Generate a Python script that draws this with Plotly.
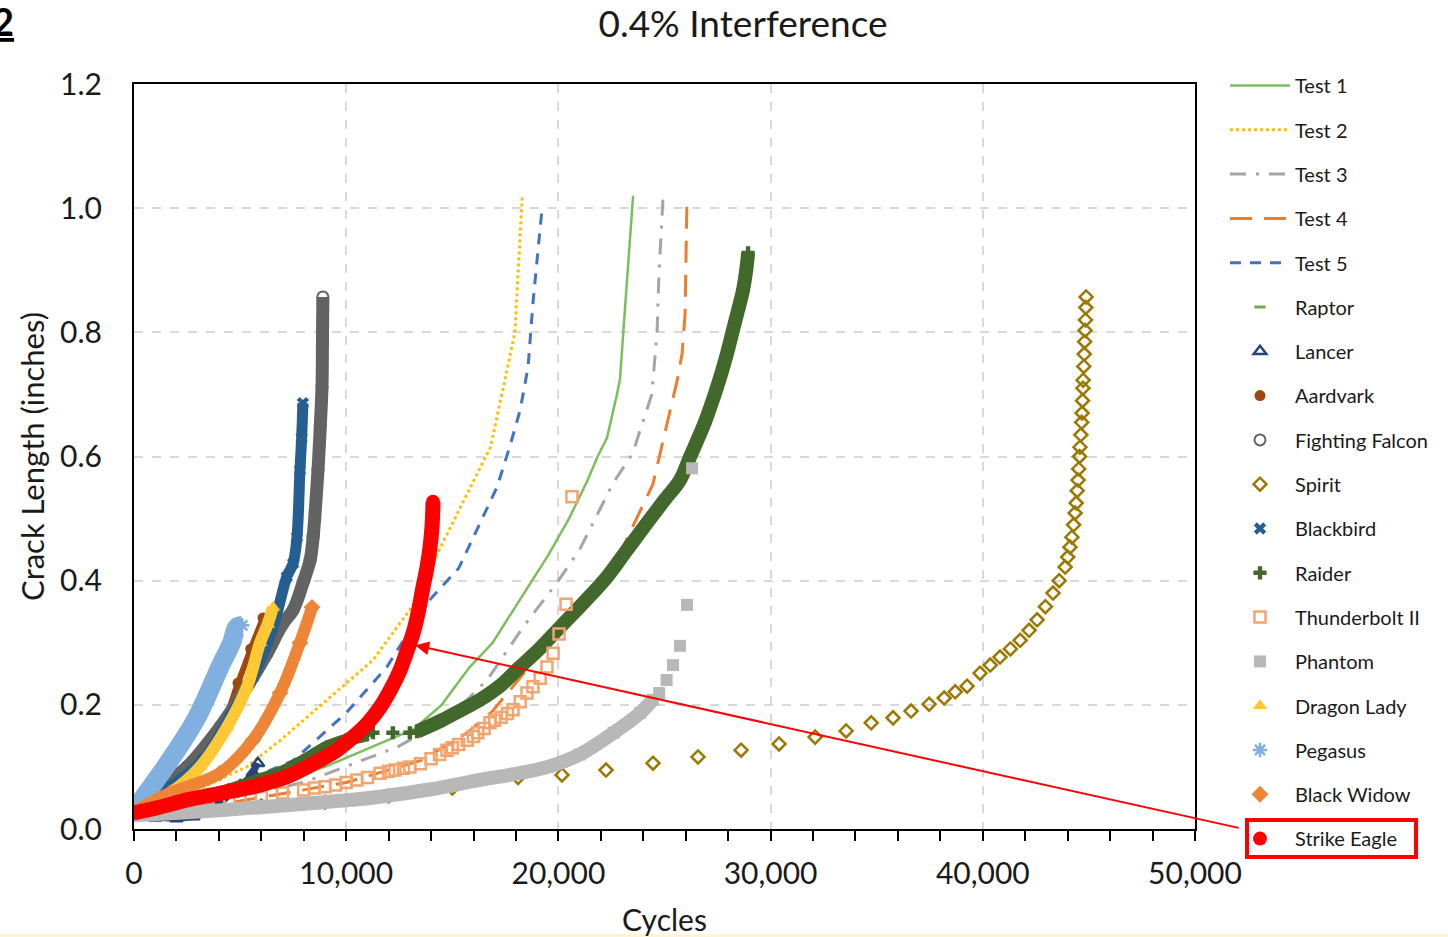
import plotly.graph_objects as go

# ---------------- data ----------------
test1_x = [0, 3000, 6000, 9000, 11600, 13150, 14500, 15800, 16900, 18000, 19500, 20500, 21350, 21850, 22290, 22760, 22905, 23100, 23300, 23520]
test1_y = [0.025, 0.045, 0.07, 0.10, 0.138, 0.16, 0.20, 0.26, 0.30, 0.36, 0.44, 0.50, 0.56, 0.60, 0.63, 0.70, 0.725, 0.82, 0.92, 1.02]

test2_x = [0, 2500, 5300, 6900, 9100, 11260, 13150, 14100, 15700, 16800, 17400, 17950, 18300]
test2_y = [0.03, 0.055, 0.10, 0.143, 0.208, 0.272, 0.36, 0.43, 0.54, 0.615, 0.71, 0.80, 1.02]

test3_x = [0, 4000, 8000, 12400, 14750, 16640, 18330, 20000, 21000, 22575, 23500, 24000, 24400, 24650, 24740, 24930]
test3_y = [0.025, 0.045, 0.075, 0.132, 0.176, 0.24, 0.325, 0.40, 0.45, 0.557, 0.605, 0.66, 0.70, 0.80, 0.895, 1.015]

test4_x = [0, 5000, 10000, 13500, 15700, 16900, 18500, 20500, 22300, 22900, 24450, 24800, 25260, 25600, 25830, 25970, 26060]
test4_y = [0.025, 0.045, 0.075, 0.11, 0.155, 0.19, 0.256, 0.34, 0.412, 0.444, 0.555, 0.605, 0.67, 0.723, 0.766, 0.83, 1.018]

test5_x = [0, 4000, 7500, 10000, 11900, 13800, 15300, 17100, 17700, 18200, 18570, 18800, 19230]
test5_y = [0.028, 0.06, 0.11, 0.187, 0.26, 0.364, 0.42, 0.55, 0.615, 0.675, 0.744, 0.847, 1.0]

raptor_x = [0, 1000, 2200, 3300, 4200, 4760]
raptor_y = [0.03, 0.07, 0.13, 0.20, 0.27, 0.32]

lancer_x = [0, 1000, 2000, 2800, 4000, 5000, 5600, 5840]
lancer_y = [0.022, 0.018, 0.017, 0.02, 0.04, 0.07, 0.09, 0.106]

aardvark_x = [0, 1500, 3000, 4200, 4900, 5500, 6080]
aardvark_y = [0.028, 0.055, 0.10, 0.17, 0.235, 0.29, 0.34]

falcon_x = [0, 900, 2500, 4050, 5325, 6270, 7000, 7500, 8000, 8300, 8440, 8670, 8780, 8860, 8880, 8900]
falcon_y = [0.028, 0.058, 0.10, 0.164, 0.229, 0.283, 0.33, 0.353, 0.40, 0.433, 0.47, 0.578, 0.65, 0.712, 0.78, 0.857]

spirit_x = [0, 3000, 6000, 9000, 12000, 15000, 18100, 20170, 22245, 24460, 26580, 28610, 30400, 32100, 33560,
            34740, 35770, 36620, 37470, 38180, 38700, 39260, 39870, 40350, 40810, 41300, 41760, 42180, 42560,
            42950, 43310, 43600, 43880, 44000, 44110, 44200, 44280, 44350, 44400, 44450, 44490, 44520, 44560,
            44580, 44620, 44660, 44680, 44700, 44720, 44730, 44760, 44780, 44800, 44820, 44840, 44855, 44870]
spirit_y = [0.025, 0.03, 0.037, 0.043, 0.053, 0.066, 0.083, 0.087, 0.095, 0.106, 0.116, 0.127, 0.137, 0.148, 0.158,
            0.171, 0.179, 0.19, 0.201, 0.211, 0.221, 0.23, 0.251, 0.264, 0.277, 0.29, 0.304, 0.32, 0.337,
            0.358, 0.38, 0.40, 0.422, 0.438, 0.454, 0.47, 0.49, 0.509, 0.525, 0.545, 0.562, 0.58, 0.60,
            0.615, 0.635, 0.655, 0.67, 0.69, 0.71, 0.723, 0.745, 0.765, 0.785, 0.803, 0.82, 0.84, 0.857]

blackbird_x = [0, 1700, 3250, 4520, 5600, 6550, 7200, 7500, 7680, 7820, 7900, 7960]
blackbird_y = [0.028, 0.068, 0.111, 0.18, 0.245, 0.325, 0.406, 0.428, 0.47, 0.578, 0.63, 0.686]

raider_x = [0, 1500, 3000, 4500, 6000, 6880, 8000, 9100, 10000, 10980, 11260, 12200, 13000, 13340, 14500, 15500,
            16300, 17300, 18190, 19100, 20075, 21200, 22290, 23200, 24180, 25000, 25730, 26200, 26900, 27480,
            27900, 28230, 28500, 28700, 28850, 28940]
raider_y = [0.028, 0.038, 0.05, 0.063, 0.08, 0.09, 0.11, 0.132, 0.143, 0.152, 0.155, 0.155, 0.155, 0.157, 0.175, 0.193,
            0.208, 0.232, 0.261, 0.29, 0.325, 0.365, 0.406, 0.448, 0.493, 0.53, 0.562, 0.599, 0.655, 0.712,
            0.76, 0.804, 0.84, 0.868, 0.90, 0.928]

thunder_x = [0, 1000, 2000, 3000, 4000, 5000, 6000, 7000, 8000, 8500, 9000, 9500, 10000, 10500, 11000, 11600,
             12000, 12300, 12700, 13000, 13500, 14000, 14400, 14750, 15000, 15300, 15700, 16000, 16200, 16500,
             16780, 17000, 17300, 17600, 17860, 18200, 18520, 18800, 19140, 19460, 19750, 20030, 20360, 20640]
thunder_y = [0.025, 0.03, 0.035, 0.04, 0.045, 0.05, 0.054, 0.058, 0.063, 0.066, 0.068, 0.071, 0.075, 0.079, 0.083, 0.09,
             0.093, 0.095, 0.098, 0.10, 0.105, 0.113, 0.12, 0.127, 0.131, 0.136, 0.143, 0.149, 0.155, 0.162,
             0.171, 0.175, 0.18, 0.186, 0.192, 0.205, 0.219, 0.229, 0.243, 0.261, 0.283, 0.314, 0.362, 0.535]

phantom_x = [0, 4000, 7000, 10300, 11600, 14000, 16300, 18000, 19500, 21000, 22600, 23850, 24450, 24750, 25100, 25400, 25730, 26060, 26300]
phantom_y = [0.022, 0.03, 0.038, 0.047, 0.052, 0.064, 0.079, 0.089, 0.10, 0.12, 0.155, 0.187, 0.208, 0.219, 0.24, 0.264, 0.295, 0.361, 0.581]
phantom_band_end = 13  # number of leading points forming the dense band

dragon_x = [0, 1700, 3110, 4380, 5325, 5940, 6300, 6550]
dragon_y = [0.028, 0.058, 0.10, 0.164, 0.229, 0.30, 0.33, 0.357]

pegasus_x = [0, 600, 1700, 2970, 4050, 4600, 4850, 5100]
pegasus_y = [0.03, 0.058, 0.111, 0.18, 0.261, 0.30, 0.325, 0.328]

widow_x = [0, 1700, 4050, 5600, 6880, 7820, 8390]
widow_y = [0.028, 0.058, 0.09, 0.143, 0.219, 0.30, 0.357]

eagle_x = [0, 1200, 2500, 4000, 5600, 7200, 8770, 9600, 10320, 11000, 11600, 12100, 12540, 12900, 13150, 13400, 13620, 13800, 13950, 14050, 14090]
eagle_y = [0.026, 0.035, 0.047, 0.057, 0.068, 0.084, 0.111, 0.128, 0.148, 0.17, 0.196, 0.225, 0.256, 0.29, 0.315, 0.35, 0.39, 0.42, 0.454, 0.49, 0.527]

x_ticks = [0, 10000, 20000, 30000, 40000, 50000]
y_ticks = [0.0, 0.2, 0.4, 0.6, 0.8, 1.0, 1.2]

# ---------------- figure ----------------
FONT = "Lato"
TXT = "#1a1a1a"
fig = go.Figure()

def add_line(name, xs, ys, color, dash, width=2.5):
    fig.add_trace(go.Scatter(x=xs, y=ys, mode="lines", name=name, legendgroup=name,
                             line=dict(color=color, dash=dash, width=width)))

def add_marks(name, xs, ys, color, symbol, size, band=0, band_n=None, lw=0, lcolor=None, fill=None):
    if band:
        bx = xs if band_n is None else xs[:band_n]
        by = ys if band_n is None else ys[:band_n]
        fig.add_trace(go.Scatter(x=bx, y=by, mode="lines", legendgroup=name, showlegend=False,
                                 hoverinfo="skip", line=dict(color=color, width=band, shape="spline")))
    fig.add_trace(go.Scatter(x=xs, y=ys, mode="markers", name=name, legendgroup=name,
                             marker=dict(symbol=symbol, size=size, color=fill if fill else color,
                                         line=dict(width=lw, color=lcolor if lcolor else color))))

add_line("Test 1", test1_x, test1_y, "#7DBE5C", "solid", 2.5)
add_line("Test 2", test2_x, test2_y, "#FFC000", "dot", 3)
add_line("Test 3", test3_x, test3_y, "#A5A5A5", "16px,10px,3px,10px", 3)
add_line("Test 4", test4_x, test4_y, "#ED7D31", "22px,12px", 3)
add_line("Test 5", test5_x, test5_y, "#4472C4", "11px,9px", 3)

add_marks("Raptor", raptor_x, raptor_y, "#70AD47", "line-ew", 8, band=8, lw=3)
add_marks("Lancer", lancer_x, lancer_y, "#264478", "triangle-up-open", 11, band=6, lw=2.5)
add_marks("Aardvark", aardvark_x, aardvark_y, "#9E480E", "circle", 11, band=6)
add_marks("Fighting Falcon", falcon_x, falcon_y, "#636363", "circle-open", 11, band=13, lw=2)
add_marks("Spirit", spirit_x, spirit_y, "#9C7800", "diamond-open", 10, lw=2.5)
add_marks("Blackbird", blackbird_x, blackbird_y, "#255E91", "x", 11, band=11)
add_marks("Raider", raider_x, raider_y, "#43682B", "cross", 11, band=13, band_n=10)
fig.add_trace(go.Scatter(x=raider_x[13:], y=raider_y[13:], mode="lines", legendgroup="Raider",
                         showlegend=False, hoverinfo="skip",
                         line=dict(color="#43682B", width=14, shape="spline")))
add_marks("Thunderbolt II", thunder_x, thunder_y, "#F4A46E", "square-open", 11, lw=2.5)
add_marks("Phantom", phantom_x, phantom_y, "#B8B8B8", "square", 12, band=14, band_n=phantom_band_end)
add_marks("Dragon Lady", dragon_x, dragon_y, "#FFC935", "triangle-up", 13, band=12)
add_marks("Pegasus", pegasus_x, pegasus_y, "#7FB0DF", "asterisk-open", 12, band=19, lw=2.5)
add_marks("Black Widow", widow_x, widow_y, "#EE8536", "diamond", 13, band=12)
add_marks("Strike Eagle", eagle_x, eagle_y, "#FF0000", "circle", 14, band=15)

L, R, T, B = 134, 253, 84, 108
W, H = 1448, 937
PW, PH = W - L - R, H - T - B

def px(xp):
    return (xp - L) / PW

def py(yp):
    return (H - B - yp) / PH

fig.update_layout(
    width=W, height=H,
    margin=dict(l=L, r=R, t=T, b=B, autoexpand=False),
    paper_bgcolor="white", plot_bgcolor="white",
    font=dict(family=FONT, color=TXT),
    title=dict(text="0.4% Interference", font=dict(size=37, family=FONT, color=TXT),
               x=743 / W, xanchor="center", xref="container", y=1 - 24 / H, yanchor="middle"),
    showlegend=True,
    legend=dict(x=px(1225), xanchor="left", y=py(66), yanchor="top", maxheight=900,
                font=dict(size=20, family=FONT, color=TXT),
                tracegroupgap=15.3, itemwidth=60, bgcolor="rgba(0,0,0,0)"),
    xaxis=dict(range=[0, 50000], tickvals=x_ticks, tickformat=",", showgrid=True, automargin=False,
               gridcolor="#D9D9D9", griddash="dash", gridwidth=2, zeroline=False,
               showline=True, linecolor="black", linewidth=2, mirror=True,
               ticks="outside", ticklen=10, tickwidth=2, tickcolor="black",
               minor=dict(dtick=2000, ticks="outside", ticklen=10, tickwidth=2, tickcolor="black", showgrid=False),
               tickfont=dict(size=30, family=FONT, color=TXT), ticklabelstandoff=7,
               title=dict(text="Cycles", font=dict(size=30, family=FONT, color=TXT), standoff=21)),
    yaxis=dict(range=[0, 1.2], tickvals=y_ticks, tickformat=".1f", showgrid=True, automargin=False,
               gridcolor="#D9D9D9", griddash="dash", gridwidth=2, zeroline=False,
               showline=True, linecolor="black", linewidth=2, mirror=True, ticks="",
               tickfont=dict(size=30, family=FONT, color=TXT), ticklabelstandoff=24,
               title=dict(text="Crack Length (inches)", font=dict(size=31, family=FONT, color=TXT), standoff=6)),
)

# arrow from highlighted legend entry to the Strike Eagle curve
fig.add_annotation(x=eagle_x[13] + 350, y=0.296, xref="x", yref="y", ax=825, ay=183,
                   axref="pixel", ayref="pixel", text="", showarrow=True,
                   arrowhead=2, arrowsize=1.4, arrowwidth=2, arrowcolor="#FF0000")
fig.add_shape(type="rect", xref="paper", yref="paper", x0=px(1247), x1=px(1416), y0=py(857), y1=py(820),
              line=dict(color="#FF0000", width=4))
fig.add_annotation(text="<b><u>2</u></b>", xref="paper", yref="paper", x=px(16), y=py(-4),
                   xanchor="right", yanchor="top", showarrow=False,
                   font=dict(size=38, family=FONT, color="black"))
fig.add_shape(type="rect", xref="paper", yref="paper", x0=px(-5), x1=px(W + 5), y0=py(937), y1=py(934),
              line=dict(width=0), fillcolor="#FFF4D6", layer="below")

fig.write_html("out.html")
